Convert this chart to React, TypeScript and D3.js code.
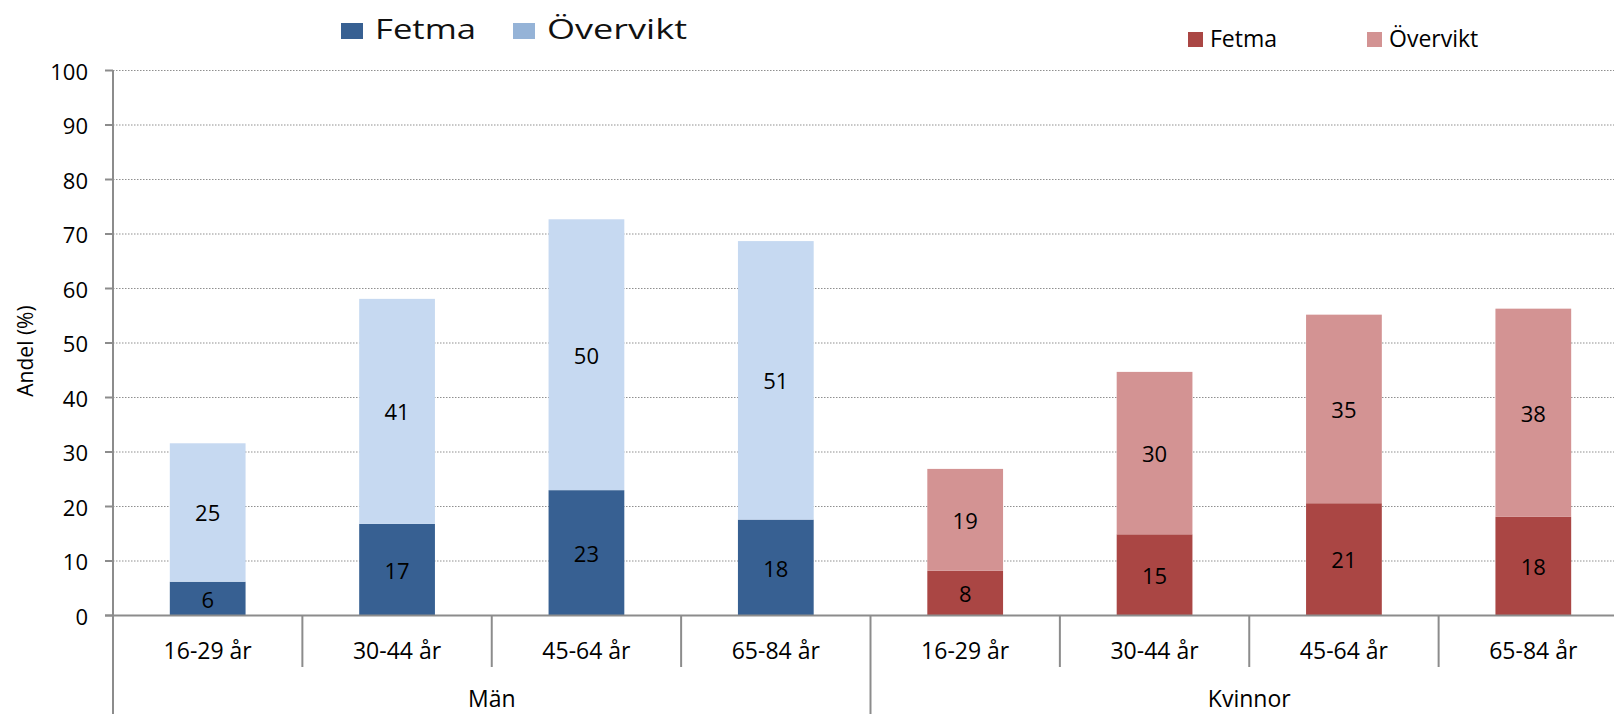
import React from "react";
import * as d3 from "d3";

const groups = ["Män", "Kvinnor"];
const ages = ["16-29 år", "30-44 år", "45-64 år", "65-84 år"];
const manFetma = [6.2, 16.8, 23.0, 17.6];
const manOvervikt = [25.4, 41.3, 49.7, 51.1];
const kvinnorFetma = [8.2, 14.9, 20.6, 18.1];
const kvinnorOvervikt = [18.7, 29.8, 34.6, 38.2];
const yTicks = [0, 10, 20, 30, 40, 50, 60, 70, 80, 90, 100];
const seriesNames = ["Fetma", "Övervikt"];

const colors = {
  manFetma: "#376092",
  manOvervikt: "#C6D9F1",
  manOverviktLegend: "#95B3D7",
  kvFetma: "#AA4644",
  kvOvervikt: "#D39393",
};

const W = 1614;
const H = 714;
const FONT = "'Open Sans', 'Noto Sans', sans-serif";

export default function App() {
  const rows = groups.flatMap((g, gi) =>
    ages.map((a, ai) => ({
      id: `${g}|${a}`,
      group: g,
      age: a,
      fetma: gi === 0 ? manFetma[ai] : kvinnorFetma[ai],
      overvikt: gi === 0 ? manOvervikt[ai] : kvinnorOvervikt[ai],
      gi,
    }))
  );

  const x = d3
    .scaleBand<string>()
    .domain(rows.map((r) => r.id))
    .range([113, 1628])
    .paddingInner(0.6)
    .paddingOuter(0.3);
  const step = x.step();
  const y = d3.scaleLinear().domain([0, 100]).range([615.5, 70.5]);

  const stack = d3.stack<any>().keys(["fetma", "overvikt"])(rows);

  const fill = (key: string, gi: number) =>
    gi === 0
      ? key === "fetma"
        ? colors.manFetma
        : colors.manOvervikt
      : key === "fetma"
      ? colors.kvFetma
      : colors.kvOvervikt;

  const left = x.range()[0];
  const boundaries = rows.map((_, i) => left + i * step);
  const groupBounds = groups.map((g, gi) => {
    const ids = rows.filter((r) => r.gi === gi).map((r) => r.id);
    const x0 = (x(ids[0]) as number) - step * 0.3;
    const x1 = x0 + step * ids.length;
    return { g, x0, x1 };
  });

  const axisColor = "#8c8c8c";

  return (
    <svg
      width={W}
      height={H}
      style={{ position: "absolute", left: 0, top: 0, background: "#fff" }}
      fontFamily={FONT}
    >
      {/* gridlines */}
      {yTicks
        .filter((t) => t > 0)
        .map((t) => (
          <line
            key={"g" + t}
            x1={113}
            x2={W}
            y1={y(t)}
            y2={y(t)}
            stroke="#8f8f8f"
            strokeWidth={1}
            strokeDasharray="1.5 1.5"
          />
        ))}
      {/* bars */}
      {stack.map((layer) =>
        layer.map((d, i) => {
          const r = rows[i];
          const y0 = y(d[0]);
          const y1 = y(d[1]);
          return (
            <g key={layer.key + r.id}>
              <rect
                x={x(r.id)}
                y={y1}
                width={x.bandwidth()}
                height={y0 - y1}
                fill={fill(layer.key, r.gi)}
              />
              <text
                x={(x(r.id) as number) + x.bandwidth() / 2}
                y={(y0 + y1) / 2}
                textAnchor="middle"
                dominantBaseline="central"
                fontSize={22}
                fill="#000"
              >
                {Math.round(d[1] - d[0])}
              </text>
            </g>
          );
        })
      )}
      {/* y axis */}
      <line x1={113} x2={113} y1={y(100)} y2={H} stroke={axisColor} strokeWidth={2} />
      {yTicks.map((t) => (
        <g key={"t" + t}>
          <line x1={105} x2={113} y1={y(t)} y2={y(t)} stroke={axisColor} strokeWidth={2} />
          <text
            x={88}
            y={y(t)}
            textAnchor="end"
            dominantBaseline="central"
            fontSize={22}
            fill="#000"
          >
            {t}
          </text>
        </g>
      ))}
      <text
        transform={`translate(25,${(y(0) + y(100)) / 2 + 8}) rotate(-90)`}
        textAnchor="middle"
        dominantBaseline="central"
        fontSize={21}
        fill="#000"
      >
        Andel (%)
      </text>
      {/* x axis */}
      <line x1={105} x2={W} y1={y(0)} y2={y(0)} stroke={axisColor} strokeWidth={2} />
      {boundaries.map((b, i) => (
        <line
          key={"b" + i}
          x1={b}
          x2={b}
          y1={y(0)}
          y2={i % 4 === 0 ? H : 667}
          stroke={axisColor}
          strokeWidth={2}
        />
      ))}
      {rows.map((r) => (
        <text
          key={"xl" + r.id}
          x={(x(r.id) as number) + x.bandwidth() / 2}
          y={650}
          textAnchor="middle"
          dominantBaseline="central"
          fontSize={23}
          fill="#000"
        >
          {r.age}
        </text>
      ))}
      {groupBounds.map((gb) => (
        <text
          key={"gl" + gb.g}
          x={(gb.x0 + gb.x1) / 2}
          y={698}
          textAnchor="middle"
          dominantBaseline="central"
          fontSize={23}
          fill="#000"
        >
          {gb.g}
        </text>
      ))}
      {/* legend left (Män) */}
      <rect x={341} y={23} width={22} height={16} fill={colors.manFetma} />
      <text
        x={375}
        y={39}
        fontSize={27}
        fontWeight={500}
        textLength={101}
        lengthAdjust="spacingAndGlyphs"
        fill="#111"
      >
        {seriesNames[0]}
      </text>
      <rect x={513} y={23} width={22} height={16} fill={colors.manOverviktLegend} />
      <text
        x={547}
        y={39}
        fontSize={27}
        fontWeight={500}
        textLength={140}
        lengthAdjust="spacingAndGlyphs"
        fill="#111"
      >
        {seriesNames[1]}
      </text>
      {/* legend right (Kvinnor) */}
      <rect x={1188} y={32} width={15} height={15} fill={colors.kvFetma} />
      <text x={1210} y={47} fontSize={23} fill="#000">
        {seriesNames[0]}
      </text>
      <rect x={1367} y={32} width={15} height={15} fill={colors.kvOvervikt} />
      <text x={1389} y={47} fontSize={23} fill="#000">
        {seriesNames[1]}
      </text>
    </svg>
  );
}
